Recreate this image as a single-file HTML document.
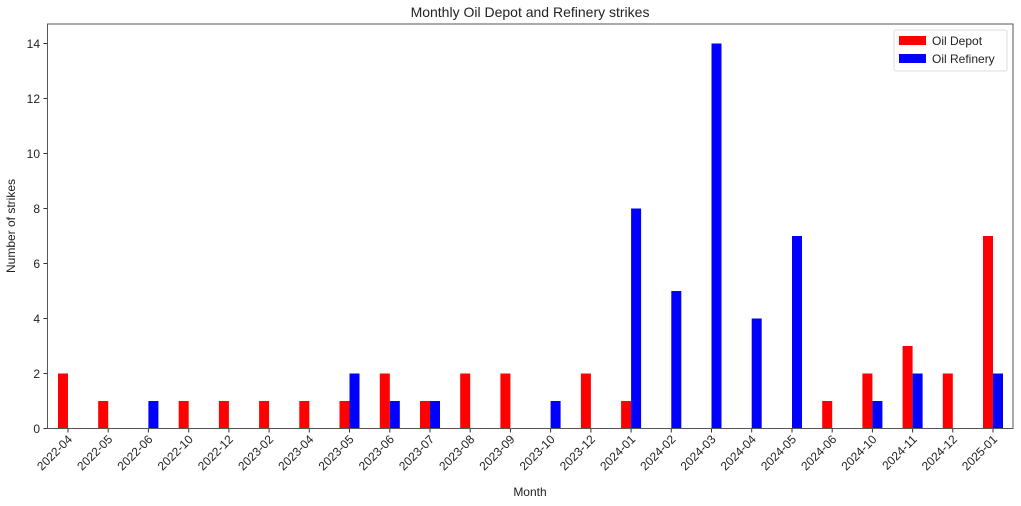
<!DOCTYPE html>
<html><head><meta charset="utf-8"><style>
html,body{margin:0;padding:0;background:#fff;}
svg{display:block;font-family:"Liberation Sans",sans-serif;}
</style></head><body>
<svg width="1021" height="506" viewBox="0 0 1021 506">
<rect width="1021" height="506" fill="#fff"/>
<text x="530" y="17" font-size="14" text-anchor="middle" fill="#222">Monthly Oil Depot and Refinery strikes</text>
<defs>
<g id="t"><line x1="0" y1="428.5" x2="0" y2="432.5" stroke="#333"/></g>
</defs>
<g fill="#222" font-size="12" text-anchor="end">
<g stroke="#333"><line x1="43.5" y1="428.5" x2="47.5" y2="428.5"/><line x1="43.5" y1="373.5" x2="47.5" y2="373.5"/><line x1="43.5" y1="318.5" x2="47.5" y2="318.5"/><line x1="43.5" y1="263.5" x2="47.5" y2="263.5"/><line x1="43.5" y1="208.5" x2="47.5" y2="208.5"/><line x1="43.5" y1="153.5" x2="47.5" y2="153.5"/><line x1="43.5" y1="98.5" x2="47.5" y2="98.5"/><line x1="43.5" y1="43.5" x2="47.5" y2="43.5"/></g>
<text x="40" y="433">0</text><text x="40" y="378">2</text><text x="40" y="323">4</text><text x="40" y="268">6</text><text x="40" y="213">8</text><text x="40" y="158">10</text><text x="40" y="103">12</text><text x="40" y="48">14</text>
</g>
<text transform="translate(15,226) rotate(-90)" font-size="12" text-anchor="middle" fill="#222">Number of strikes</text>
<text x="530" y="496" font-size="12" text-anchor="middle" fill="#222">Month</text>
<g font-size="12" fill="#222" text-anchor="end">
<g transform="translate(68,0)"><rect x="-10" y="373.5" width="10" height="55" fill="#ff0000"/><use href="#t"/><text transform="translate(5,440) rotate(-45)">2022-04</text></g>
<g transform="translate(108.2,0)"><rect x="-10" y="401" width="10" height="27.5" fill="#ff0000"/><use href="#t"/><text transform="translate(5,440) rotate(-45)">2022-05</text></g>
<g transform="translate(148.4,0)"><rect x="0" y="401" width="10" height="27.5" fill="#0000ff"/><use href="#t"/><text transform="translate(5,440) rotate(-45)">2022-06</text></g>
<g transform="translate(188.7,0)"><rect x="-10" y="401" width="10" height="27.5" fill="#ff0000"/><use href="#t"/><text transform="translate(5,440) rotate(-45)">2022-10</text></g>
<g transform="translate(228.9,0)"><rect x="-10" y="401" width="10" height="27.5" fill="#ff0000"/><use href="#t"/><text transform="translate(5,440) rotate(-45)">2022-12</text></g>
<g transform="translate(269.1,0)"><rect x="-10" y="401" width="10" height="27.5" fill="#ff0000"/><use href="#t"/><text transform="translate(5,440) rotate(-45)">2023-02</text></g>
<g transform="translate(309.3,0)"><rect x="-10" y="401" width="10" height="27.5" fill="#ff0000"/><use href="#t"/><text transform="translate(5,440) rotate(-45)">2023-04</text></g>
<g transform="translate(349.5,0)"><rect x="-10" y="401" width="10" height="27.5" fill="#ff0000"/><rect x="0" y="373.5" width="10" height="55" fill="#0000ff"/><use href="#t"/><text transform="translate(5,440) rotate(-45)">2023-05</text></g>
<g transform="translate(389.8,0)"><rect x="-10" y="373.5" width="10" height="55" fill="#ff0000"/><rect x="0" y="401" width="10" height="27.5" fill="#0000ff"/><use href="#t"/><text transform="translate(5,440) rotate(-45)">2023-06</text></g>
<g transform="translate(430,0)"><rect x="-10" y="401" width="10" height="27.5" fill="#ff0000"/><rect x="0" y="401" width="10" height="27.5" fill="#0000ff"/><use href="#t"/><text transform="translate(5,440) rotate(-45)">2023-07</text></g>
<g transform="translate(470.2,0)"><rect x="-10" y="373.5" width="10" height="55" fill="#ff0000"/><use href="#t"/><text transform="translate(5,440) rotate(-45)">2023-08</text></g>
<g transform="translate(510.4,0)"><rect x="-10" y="373.5" width="10" height="55" fill="#ff0000"/><use href="#t"/><text transform="translate(5,440) rotate(-45)">2023-09</text></g>
<g transform="translate(550.6,0)"><rect x="0" y="401" width="10" height="27.5" fill="#0000ff"/><use href="#t"/><text transform="translate(5,440) rotate(-45)">2023-10</text></g>
<g transform="translate(590.9,0)"><rect x="-10" y="373.5" width="10" height="55" fill="#ff0000"/><use href="#t"/><text transform="translate(5,440) rotate(-45)">2023-12</text></g>
<g transform="translate(631.1,0)"><rect x="-10" y="401" width="10" height="27.5" fill="#ff0000"/><rect x="0" y="208.5" width="10" height="220" fill="#0000ff"/><use href="#t"/><text transform="translate(5,440) rotate(-45)">2024-01</text></g>
<g transform="translate(671.3,0)"><rect x="0" y="291" width="10" height="137.5" fill="#0000ff"/><use href="#t"/><text transform="translate(5,440) rotate(-45)">2024-02</text></g>
<g transform="translate(711.5,0)"><rect x="0" y="43.5" width="10" height="385" fill="#0000ff"/><use href="#t"/><text transform="translate(5,440) rotate(-45)">2024-03</text></g>
<g transform="translate(751.7,0)"><rect x="0" y="318.5" width="10" height="110" fill="#0000ff"/><use href="#t"/><text transform="translate(5,440) rotate(-45)">2024-04</text></g>
<g transform="translate(792,0)"><rect x="0" y="236" width="10" height="192.5" fill="#0000ff"/><use href="#t"/><text transform="translate(5,440) rotate(-45)">2024-05</text></g>
<g transform="translate(832.2,0)"><rect x="-10" y="401" width="10" height="27.5" fill="#ff0000"/><use href="#t"/><text transform="translate(5,440) rotate(-45)">2024-06</text></g>
<g transform="translate(872.4,0)"><rect x="-10" y="373.5" width="10" height="55" fill="#ff0000"/><rect x="0" y="401" width="10" height="27.5" fill="#0000ff"/><use href="#t"/><text transform="translate(5,440) rotate(-45)">2024-10</text></g>
<g transform="translate(912.6,0)"><rect x="-10" y="346" width="10" height="82.5" fill="#ff0000"/><rect x="0" y="373.5" width="10" height="55" fill="#0000ff"/><use href="#t"/><text transform="translate(5,440) rotate(-45)">2024-11</text></g>
<g transform="translate(952.8,0)"><rect x="-10" y="373.5" width="10" height="55" fill="#ff0000"/><use href="#t"/><text transform="translate(5,440) rotate(-45)">2024-12</text></g>
<g transform="translate(993,0)"><rect x="-10" y="236" width="10" height="192.5" fill="#ff0000"/><rect x="0" y="373.5" width="10" height="55" fill="#0000ff"/><use href="#t"/><text transform="translate(5,440) rotate(-45)">2025-01</text></g>
</g>
<rect x="47.5" y="24" width="965.5" height="404.5" fill="none" stroke="#555" stroke-width="1"/>
<rect x="894" y="30" width="113" height="41" rx="2" fill="#fff" stroke="#ddd"/>
<rect x="899" y="36" width="27" height="9" fill="#ff0000"/>
<rect x="899" y="54" width="27" height="9" fill="#0000ff"/>
<g font-size="12" fill="#222"><text x="932" y="45">Oil Depot</text><text x="932" y="63">Oil Refinery</text></g>
</svg>
</body></html>
